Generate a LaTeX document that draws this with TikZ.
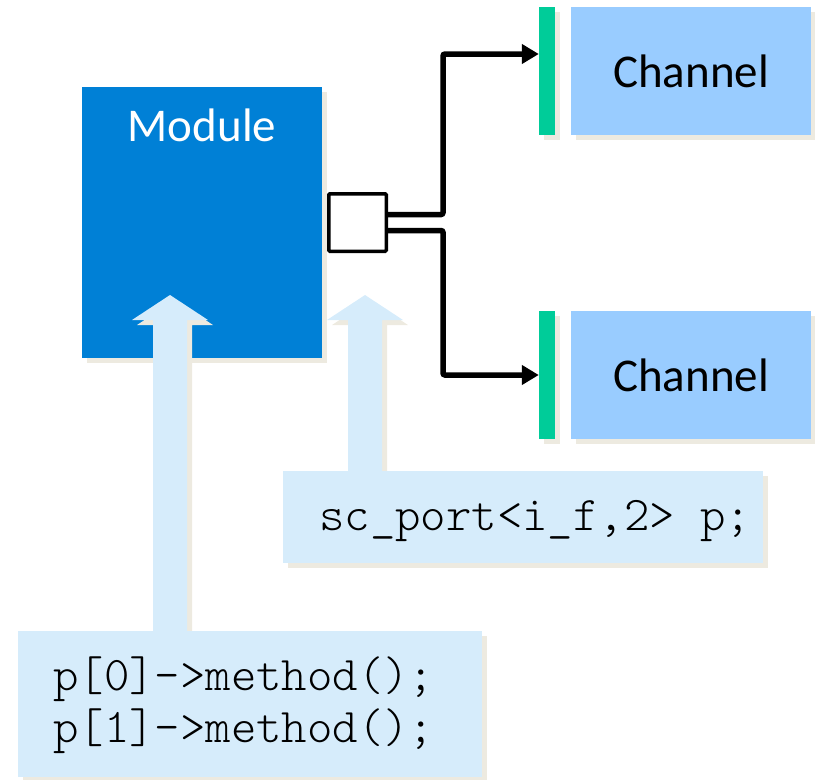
\documentclass[tikz,border=0pt]{standalone}
\usepackage{fontspec}
\setmainfont{Carlito}
\newfontfamily\codefont{Latin Modern Mono Light}
\usetikzlibrary{arrows.meta,calc,shadows}

\definecolor{modblue}{HTML}{0080D6}
\definecolor{chanblue}{HTML}{99CCFF}
\definecolor{ifgreen}{HTML}{00CC99}
\definecolor{paleblue}{HTML}{D6ECFB}
\definecolor{shadowc}{HTML}{EDEAE0}

% upward block arrow from a box (#2) to a tip point (#1)
\newcommand\blockarrow[2]{%
  \path[liftarrow] (#1) -- ++(38,25) -- ++(-21,0)
    -- ($(#1 |- #2.north)+(17,0)$) -- ++(-34,0)
    -- ($(#1)+(-17,25)$) -- ++(-21,0) -- cycle;}

\begin{document}
\begin{tikzpicture}[x=1pt,y=-1pt,
  boxshadow/.style={drop shadow={shadow xshift=5pt,shadow yshift=-5pt,fill=shadowc,opacity=1}},
  module/.style={rectangle,fill=modblue,inner sep=0pt,minimum width=240pt,minimum height=271pt,boxshadow},
  portbox/.style={rectangle,draw=black,line width=3.5pt,fill=white,inner sep=0pt,minimum size=57.5pt,rounded corners=1pt},
  ifbar/.style={rectangle,fill=ifgreen,inner sep=0pt,minimum width=16pt,minimum height=128pt,boxshadow},
  channel/.style={rectangle,fill=chanblue,inner sep=0pt,minimum width=240pt,minimum height=128pt,boxshadow,
    font=\fontsize{47}{56}\selectfont},
  codebox/.style={rectangle,fill=paleblue,inner sep=0pt,boxshadow},
  codetext/.style={inner sep=0pt,font=\codefont\fontsize{48.4}{52}\selectfont,align=left},
  liftarrow/.style={fill=paleblue,boxshadow},
  wire/.style={line width=5.5pt,rounded corners=2pt,-{Triangle[length=17pt,width=19pt]}},
]
\useasboundingbox (0,0) rectangle (815,780);

% module with its port
\node[module] (module) at (202,222.5) {};
\node[anchor=base,inner sep=0pt,text=white,font=\fontsize{47}{56}\selectfont]
  (modlabel) at ([yshift=-55pt]module.north) {Module};
\node[portbox] (port) at (357.5,222.5) {};

% channels with their interfaces
\node[ifbar] (bar1) at (547,71) {};
\node[ifbar] (bar2) at (547,375) {};
\node[channel] (chan1) at (691,71) {Channel};
\node[channel] (chan2) at (691,375) {Channel};

% port bindings
\coordinate (in1) at ([yshift=17pt]bar1.west);
\draw[wire] ([yshift=8pt]port.east) -- ++(55,0) |- (in1);
\draw[wire] ([yshift=-8pt]port.east) -- ++(55,0) |- (bar2.west);

% code boxes and the arrows pointing up from them
\coordinate (tipL) at (170,295);
\coordinate (tipR) at (365,295);
\node[codebox,minimum width=480pt,minimum height=92pt] (decl) at (523,517) {};
\node[codebox,minimum width=464pt,minimum height=146pt] (calls) at (250,704) {};
\blockarrow{tipL}{calls}
\blockarrow{tipR}{decl}
\node[codebox,minimum width=480pt,minimum height=92pt] (decl) at (523,517) {};
\node[codebox,minimum width=464pt,minimum height=146pt] (calls) at (250,704) {};

\node[codetext,anchor=base west] (decltext) at (319,530) {sc\_port<i\_f,2> p;};
\node[codetext,anchor=base west] (callstext) at (53,690) {p[0]->method();};
\node[codetext,anchor=base west] (callstext2) at (53,742) {p[1]->method();};
\end{tikzpicture}
\end{document}
